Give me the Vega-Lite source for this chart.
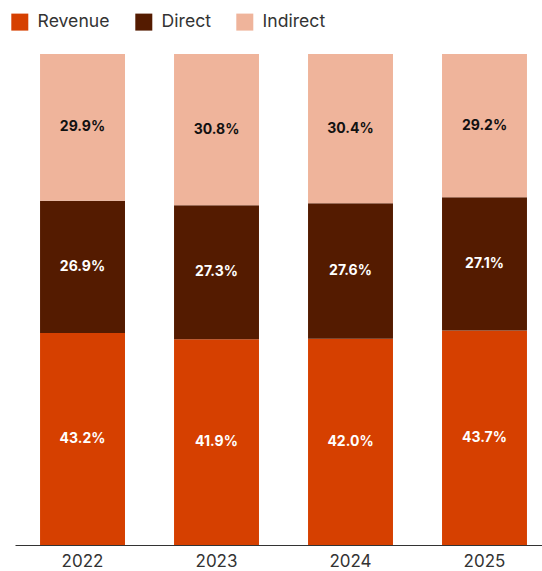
{
  "$schema": "https://vega.github.io/schema/vega-lite/v6.json",
  "autosize": "none",
  "width": 527,
  "height": 491,
  "padding": {"left": 15, "right": 0, "top": 54, "bottom": 26},
  "background": "white",
  "config": {"view": {"stroke": null}, "font": "Inter"},
  "data": {"values": [
    {"year": "2022", "category": "Revenue", "value": 43.2},
    {"year": "2022", "category": "Direct", "value": 26.9},
    {"year": "2022", "category": "Indirect", "value": 29.9},
    {"year": "2023", "category": "Revenue", "value": 41.9},
    {"year": "2023", "category": "Direct", "value": 27.3},
    {"year": "2023", "category": "Indirect", "value": 30.8},
    {"year": "2024", "category": "Revenue", "value": 42.0},
    {"year": "2024", "category": "Direct", "value": 27.6},
    {"year": "2024", "category": "Indirect", "value": 30.4},
    {"year": "2025", "category": "Revenue", "value": 43.7},
    {"year": "2025", "category": "Direct", "value": 27.1},
    {"year": "2025", "category": "Indirect", "value": 29.2}
  ]},
  "transform": [
    {"calculate": "indexof(['Revenue','Direct','Indirect'], datum.category)", "as": "ord"},
    {"stack": "value", "groupby": ["year"], "sort": [{"field": "ord", "order": "ascending"}], "offset": "normalize", "as": ["y0", "y1"]},
    {"calculate": "(datum.y0 + datum.y1) / 2", "as": "mid"},
    {"calculate": "format(datum.value, '.1f') + '%'", "as": "label"}
  ],
  "encoding": {
    "x": {
      "field": "year", "type": "nominal", "title": null,
      "scale": {"paddingInner": 0.366, "paddingOuter": 0.1495, "align": 0.625},
      "axis": {"labelAngle": 0, "ticks": false, "domainColor": "#333333", "domainWidth": 1, "labelColor": "#333333", "labelFontSize": 17, "labelPadding": 8, "labelFont": "Inter"}
    }
  },
  "layer": [
    {
      "mark": {"type": "bar"},
      "encoding": {
        "y": {"field": "y0", "type": "quantitative", "scale": {"domain": [0, 1]}, "axis": null},
        "y2": {"field": "y1"},
        "color": {
          "field": "category", "type": "nominal",
          "sort": ["Revenue", "Direct", "Indirect"],
          "scale": {"domain": ["Revenue", "Direct", "Indirect"], "range": ["#D64000", "#541B00", "#EFB49B"]},
          "legend": {
            "title": null, "orient": "none", "legendX": -4, "legendY": -41,
            "direction": "horizontal", "symbolType": "square", "symbolSize": 289,
            "symbolStrokeWidth": 0, "symbolOpacity": 1, "labelFontSize": 17.6, "labelColor": "#333333",
            "labelFont": "Inter", "labelOffset": 9, "columnPadding": 25
          }
        }
      }
    },
    {
      "mark": {"type": "text", "font": "Inter", "fontWeight": "bold", "fontSize": 14, "baseline": "middle"},
      "encoding": {
        "y": {"field": "mid", "type": "quantitative", "scale": {"domain": [0, 1]}},
        "text": {"field": "label"},
        "color": {
          "condition": {"test": "datum.category === 'Indirect'", "value": "#111111"},
          "value": "#FFFFFF"
        }
      }
    }
  ]
}
